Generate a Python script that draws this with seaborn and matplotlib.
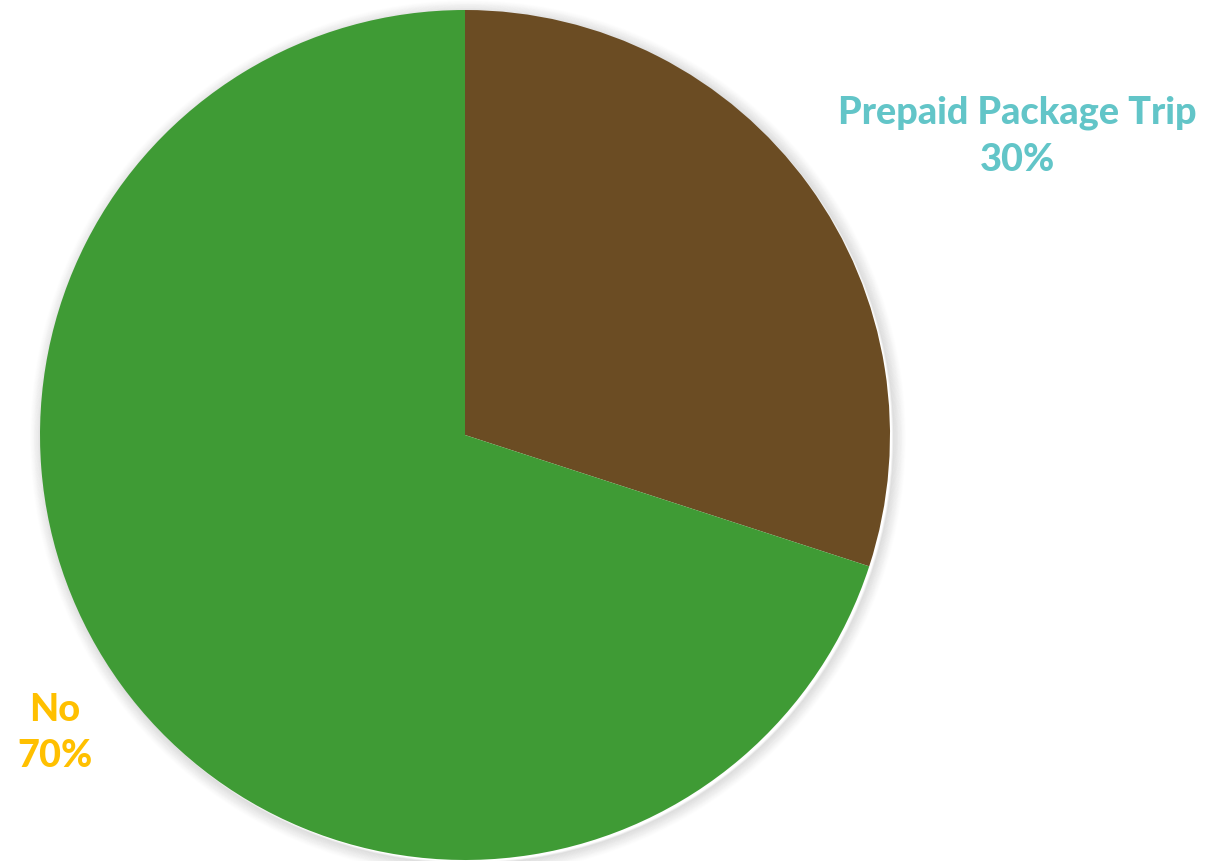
import matplotlib
matplotlib.use("Agg")
import matplotlib.pyplot as plt
from matplotlib.patches import Circle
import seaborn as sns

categories = ["Prepaid Package Trip", "No"]
shares = [30, 70]
slice_colors = ["#6B4C23", "#3F9B35"]
label_colors = ["#62C5C8", "#FFC000"]

sns.set_theme(style="white")
plt.rcParams["font.family"] = ["Lato", "DejaVu Sans"]

W, H = 1205, 861
fig = plt.figure(figsize=(W / 100, H / 100), dpi=100)
ax = fig.add_axes([0, 0, 1, 1])

cx, cy, r = 465, H - 435, 425

# soft drop shadow around the disc
for i in range(16):
    ax.add_patch(Circle((cx + 3, cy - 3), r + i * 0.8, facecolor="none",
                        edgecolor="black", lw=1.6, alpha=0.05 * (1 - i / 16),
                        zorder=0))

ax.pie(shares, colors=slice_colors, startangle=90, counterclock=False,
       center=(cx, cy), radius=r, frame=True,
       wedgeprops=dict(linewidth=0))
ax.set_xlim(0, W)
ax.set_ylim(0, H)
ax.set_aspect("equal")
ax.axis("off")

label_pos = [(1017, H - 136), (55, H - 733)]
for cat, share, col, (lx, ly) in zip(categories, shares, label_colors, label_pos):
    ax.text(lx, ly, f"{cat}\n{share}%", color=col, fontsize=27.3,
            fontweight="black", ha="center", va="center", linespacing=1.45)

fig.savefig("out.png", dpi=100)
